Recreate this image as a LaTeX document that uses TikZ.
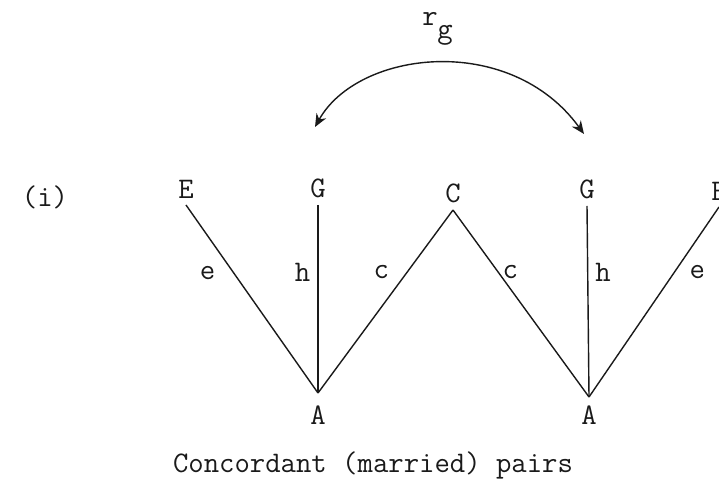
\documentclass[tikz,border=0pt]{standalone}
\usepackage{fontspec}
\usetikzlibrary{positioning,arrows.meta}
\definecolor{ink}{HTML}{1A1A1A}
\begin{document}
\begin{tikzpicture}[x=.02cm,y=-.02cm,lbl/.style={inner sep=0pt,font=\ttfamily\fontsize{17}{20}\selectfont,text=ink},edge/.style={draw=ink,line width=.8pt},tip/.style={{Stealth[length=2.6mm,width=2.2mm]}-{Stealth[length=2.6mm,width=2.2mm]}}]
\useasboundingbox (0,0) rectangle (719,482);
\foreach \n/\x/\y in {e1/186/205,g1/318/205,a1/318/393,c/453/210,g2/587/206,a2/589/397,e2/719/207,rl/315/127,rr/584/134}{\coordinate (\n) at (\x,\y);}
\foreach \n/\t in {e1/E,g1/G,c/C,g2/G,e2/E}{\node[lbl,above=1.3mm of \n] (\n t) {\t};}
\node[lbl,below=2.4mm of a1] (a1t) {A};\node[lbl,below=1.6mm of a2] (a2t) {A};
\draw[edge] (e1) -- node[lbl,pos=.36,left=3.5mm] (el) {e} (a1);
\draw[edge] (g1) -- node[lbl,pos=.36,left=1.4mm] (hl) {h} (a1);
\draw[edge] (a1) -- node[lbl,pos=.66,left=3.5mm] (cl) {c} (c);
\draw[edge] (c) -- node[lbl,pos=.33,right=.8mm] (cr) {c} (a2);
\draw[edge] (g2) -- node[lbl,pos=.35,right=1.4mm] (hr) {h} (a2);
\draw[edge] (a2) -- node[lbl,pos=.66,right=2.8mm] (er) {e} (e2);
\draw[edge,tip] (rl) .. controls (358,50) and (510,32) .. (rr);
\node[lbl] (r) at (430,19) {r};\node[lbl] (g) at (445,35) {g};
\node[lbl] (case) at (45,197) {(i)};
\node[lbl] (caption) at (373,465) {Concordant (married) pairs};
\end{tikzpicture}
\end{document}
